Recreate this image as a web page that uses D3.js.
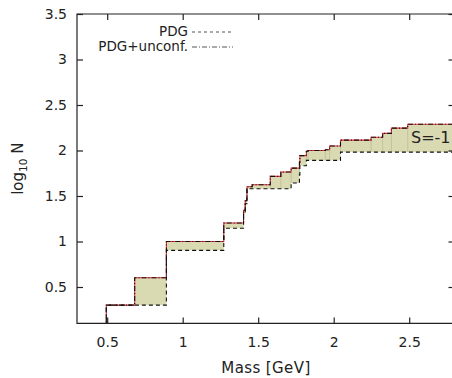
<!DOCTYPE html>
<html><head><meta charset="utf-8">
<script src="https://cdn.jsdelivr.net/npm/d3@7"></script>
<style>
body{margin:0;background:#fff;}
text{font-family:"DejaVu Sans",Verdana,sans-serif;fill:#222;}
</style></head>
<body><svg id="c" width="452" height="378"></svg>
<script>
// PDG established S=-1 states: step positions (GeV) and log10 of cumulative count
const pdgMass = [0.494, 0.892, 1.272, 1.403, 1.414, 1.425, 1.4256, 1.718, 1.773, 1.776, 1.819, 2.045];
const pdgLog  = [0.301, 0.903, 1.146, 1.301, 1.415, 1.447, 1.580, 1.643, 1.732, 1.833, 1.892, 1.982];
// PDG + unconfirmed states
const allMass = [0.494, 0.682, 0.892, 1.272, 1.403, 1.414, 1.425, 1.4256, 1.46, 1.58, 1.65, 1.718, 1.773, 1.776, 1.819, 1.83, 1.945, 1.973, 2.045, 2.247, 2.324, 2.382, 2.49];
const allLog  = [0.301, 0.602, 1.000, 1.204, 1.342, 1.447, 1.477, 1.602, 1.623, 1.716, 1.763, 1.806, 1.869, 1.944, 1.991, 2.000, 2.009, 2.049, 2.114, 2.146, 2.188, 2.246, 2.288];
const xTicks = [0.5, 1, 1.5, 2, 2.5];
const yTicks = [0.5, 1, 1.5, 2, 2.5, 3, 3.5];
const legendLabels = ["PDG", "PDG+unconf."];
const bandLabel = "S=-1";

const L = 77, T = 14, B = 323.4, R = 454.5;
const x = d3.scaleLinear().domain([0.3, 2.8]).range([L, R]);
const y = d3.scaleLinear().domain([0.1, 3.5]).range([B, T]);
const svg = d3.select("#c");

svg.append("defs").append("clipPath").attr("id","clip")
  .append("rect").attr("x",L).attr("y",T).attr("width",R-L).attr("height",B-T);

function valAt(ms, vs, m){ let v = -1; for(let i=0;i<ms.length;i++){ if(m>=ms[i]) v=vs[i]; } return v; }

// fill between curves, as segments
const br = Array.from(new Set(pdgMass.concat(allMass))).sort((a,b)=>a-b);
br.push(3.0);
const segs = [];
for(let i=0;i<br.length-1;i++){
  const lo = valAt(pdgMass,pdgLog,br[i]+1e-6), hi = valAt(allMass,allLog,br[i]+1e-6);
  if(hi>lo+1e-4) segs.push({m0:br[i], m1:br[i+1], lo, hi});
}
const g = svg.append("g").attr("clip-path","url(#clip)");
g.selectAll("rect.f").data(segs).enter().append("rect").attr("class","f")
  .attr("x",d=>x(d.m0)).attr("width",d=>x(d.m1)-x(d.m0))
  .attr("y",d=>y(d.hi)).attr("height",d=>y(d.lo)-y(d.hi))
  .attr("fill","#d9d9b2");
// faint seams at upper step positions within fill
const seams = allMass.filter(m=> valAt(allMass,allLog,m-1e-6) > valAt(pdgMass,pdgLog,m-1e-6)+1e-4 && valAt(allMass,allLog,m+1e-6) > valAt(pdgMass,pdgLog,m+1e-6)+1e-4);
g.selectAll("line.s").data(seams).enter().append("line").attr("class","s")
  .attr("x1",d=>x(d)).attr("x2",d=>x(d))
  .attr("y1",d=>y(valAt(allMass,allLog,d-1e-6))).attr("y2",d=>y(valAt(pdgMass,pdgLog,d+1e-6)))
  .attr("stroke","#b5b58c").attr("stroke-width",0.7);

function stepData(ms, vs){
  const pts = [[ms[0], 0]];
  ms.forEach((m,i)=>pts.push([m, vs[i]]));
  pts.push([3.0, vs[vs.length-1]]);
  return pts;
}
const line = d3.line().x(d=>x(d[0])).y(d=>y(d[1])).curve(d3.curveStepAfter);
// PDG+unconf: red solid under black dash-dot
g.append("path").attr("d", line(stepData(allMass, allLog)))
  .attr("fill","none").attr("stroke","#e0303a").attr("stroke-width",1.1);
g.append("path").attr("d", line(stepData(allMass, allLog)))
  .attr("fill","none").attr("stroke","#111").attr("stroke-width",1.1).attr("stroke-dasharray","5,2,1,2");
// PDG: black dashed
g.append("path").attr("d", line(stepData(pdgMass, pdgLog)))
  .attr("fill","none").attr("stroke","#111").attr("stroke-width",1.1).attr("stroke-dasharray","4,3");

// frame
svg.append("path").attr("d",`M${R},${T}H${L}V${B}H${R}`).attr("fill","none").attr("stroke","#222").attr("stroke-width",1.2);

// axes via d3 (ticks inward)
const ax = svg.append("g");
ax.append("g").attr("transform",`translate(0,${B})`)
  .call(d3.axisBottom(x).tickValues(xTicks).tickSize(-6).tickPadding(14).tickFormat(d3.format("")));
ax.append("g").attr("transform",`translate(0,${T})`)
  .call(d3.axisTop(x).tickValues(xTicks).tickSize(-6).tickFormat(""));
ax.append("g").attr("transform",`translate(${L},0)`)
  .call(d3.axisLeft(y).tickValues(yTicks).tickSize(-6).tickPadding(10).tickFormat(d3.format("")));
ax.append("g").attr("transform",`translate(${R},0)`)
  .call(d3.axisRight(y).tickValues(yTicks).tickSize(-6).tickFormat(""));
ax.selectAll(".domain").remove();
ax.selectAll(".tick line").attr("stroke","#222").attr("stroke-width",1.2);
ax.selectAll(".tick text").style("font-size","14px").attr("fill","#222")
  .style("font-family","'DejaVu Sans',Verdana,sans-serif");

// axis titles
svg.append("text").attr("x",266).attr("y",373).attr("text-anchor","middle")
  .style("font-size","15px").style("letter-spacing","0.4px").text("Mass [GeV]");
const yl = svg.append("text").attr("transform",`translate(23,${(T+B)/2}) rotate(-90)`)
  .attr("text-anchor","middle").style("font-size","15px");
yl.append("tspan").text("log");
yl.append("tspan").attr("dy",4).style("font-size","10.5px").text("10");
yl.append("tspan").attr("dy",-4).text(" N");

// legend
const leg = svg.append("g");
const dashes = ["3,3","5,2,1,2"];
legendLabels.forEach((lab,i)=>{
  const yy = 31.5 + i*15;
  leg.append("text").attr("x",188).attr("y",yy).attr("dy","0.35em").attr("text-anchor","end")
    .style("font-size","13.5px").text(lab);
  leg.append("line").attr("x1",192).attr("x2",233).attr("y1",yy+0.5).attr("y2",yy+0.5)
    .attr("stroke","#555").attr("stroke-width",1).attr("stroke-dasharray",dashes[i]);
});

// band label
svg.append("text").attr("x",411).attr("y",y(2.14)).attr("dy","0.35em")
  .style("font-size","16px").attr("fill","#333").text(bandLabel);
</script></body></html>
